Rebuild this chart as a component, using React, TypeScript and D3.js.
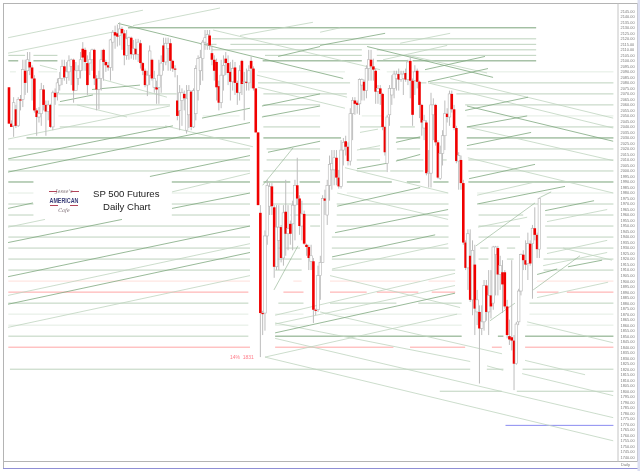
import React from 'react';
import * as d3 from 'd3';

const opens = [2076,2043,2041,2056,2041,2065,2065,2091,2091,2099,
2094,2084,2055,2049,2052,2074,2060,2054,2060,2040,
2071,2071,2078,2084,2095,2085,2090,2095,2101,2073,
2084,2091,2111,2110,2098,2098,2101,2110,2084,2074,
2084,2110,2099,2096,2094,2117,2126,2125,2123,2129,
2125,2105,2114,2121,2106,2111,2106,2116,2098,2091,
2078,2087,2101,2076,2076,2076,2087,2114,2099,2111,
2116,2100,2093,2064,2055,2064,2070,2037,2051,2072,
2040,2052,2073,2091,2102,2117,2116,2123,2107,2101,
2099,2077,2062,2087,2102,2098,2090,2081,2094,2080,
2071,2100,2080,2081,2080,2100,2093,2075,2035,1962,
1871,1871,1941,1968,1986,1967,1913,1937,1949,1921,
1963,1943,1952,1952,1969,1987,1975,1950,1961,1933,
1931,1918,1918,1874,1874,1905,1917,1975,1960,1987,
2001,2001,2012,1994,1986,2019,2027,2022,2009,2052,
2064,2062,2061,2078,2081,2073,2093,2101,2095,2091,
2072,2075,2070,2040,2007,2051,2069,2075,2084,2088,
2083,2084,2089,2083,2100,2082,2082,2091,2081,2060,
2039,2044,1998,1998,2051,2060,2026,1993,2016,2032,
2052,2049,2070,2056,2039,2009,2010,1989,1935,1912,
1923,1883,1915,1872,1872,1857,1863,1896,1872,1887,
1880,1924,1930,1906,1908,1908,1877,1850,1849,1846,
1825,1863,1891,1924,1919,1916,1934,1934,1948,1942,
1929];
const closes = [2043,2040,2062,2041,2065,2064,2092,2080,2101,2094,
2084,2055,2049,2052,2074,2060,2054,2060,2040,2071,
2067,2080,2084,2095,2085,2090,2100,2101,2073,2091,
2091,2101,2103,2099,2078,2101,2110,2084,2074,2084,
2101,2099,2096,2094,2119,2126,2123,2122,2129,2125,
2105,2120,2121,2106,2111,2106,2117,2098,2091,2078,
2087,2109,2084,2084,2074,2087,2098,2099,2116,2116,
2100,2093,2092,2050,2071,2071,2066,2066,2073,2040,
2073,2093,2102,2103,2117,2121,2124,2114,2101,2091,
2076,2062,2087,2096,2098,2089,2081,2093,2080,2071,
2091,2079,2081,2080,2091,2093,2075,2035,1969,1871,
1870,1941,1987,1986,1968,1913,1949,1949,1921,1962,
1943,1948,1943,1969,1987,1975,1950,1961,1934,1931,
1921,1923,1874,1873,1905,1917,1975,1973,1987,2006,
2007,2012,1994,1986,2019,2026,2022,2009,2052,2064,
2061,2060,2083,2083,2073,2093,2101,2095,2092,2072,
2075,2070,2040,2017,2049,2075,2075,2088,2088,2083,
2088,2088,2083,2099,2082,2051,2090,2081,2060,2044,
2046,1998,1999,2060,2060,2026,1994,2016,2032,2052,
2049,2070,2056,2039,2009,2014,1989,1935,1912,1943,
1883,1928,1875,1883,1857,1863,1896,1872,1887,1877,
1931,1931,1906,1914,1897,1877,1851,1847,1846,1825,
1861,1891,1924,1919,1915,1934,1916,1948,1942,1929,
1975];
const highs = [2076,2046,2067,2060,2067,2069,2101,2101,2108,2108,
2096,2087,2057,2058,2080,2078,2064,2064,2061,2073,
2075,2084,2090,2101,2101,2099,2105,2102,2102,2099,
2096,2108,2117,2112,2105,2108,2111,2111,2087,2091,
2110,2111,2101,2099,2120,2128,2132,2133,2135,2131,
2128,2128,2122,2122,2119,2120,2120,2119,2099,2093,
2091,2114,2102,2091,2082,2101,2105,2121,2121,2121,
2120,2101,2096,2087,2078,2075,2073,2078,2078,2073,
2075,2096,2105,2110,2119,2128,2128,2128,2114,2105,
2102,2082,2101,2105,2108,2105,2099,2101,2099,2082,
2096,2101,2090,2093,2096,2104,2095,2075,2035,1969,
1873,1946,1992,1989,1989,1969,1969,1969,1951,1969,
1992,1969,1955,1973,1992,2012,1978,1973,1964,1934,
1933,1933,1921,1875,1914,1923,1978,1983,1992,2014,
2019,2019,2019,2001,2028,2030,2032,2026,2057,2067,
2067,2064,2084,2084,2083,2096,2110,2110,2102,2093,
2078,2078,2071,2041,2051,2078,2087,2091,2091,2093,
2091,2091,2093,2101,2104,2084,2096,2093,2082,2061,
2051,2046,2019,2071,2066,2061,2028,2023,2037,2064,
2057,2073,2073,2060,2041,2017,2014,1992,1937,1947,
1947,1937,1933,1892,1878,1878,1901,1901,1910,1910,
1932,1932,1932,1923,1919,1910,1883,1865,1919,1851,
1863,1893,1925,1928,1937,1944,1937,1951,1967,1944,
1976];
const lows = [2043,2040,2031,2039,2040,2055,2058,2069,2071,2087,
2064,2053,2032,2044,2041,2055,2032,2046,2039,2037,
2060,2064,2073,2078,2082,2079,2082,2078,2062,2078,
2078,2084,2091,2091,2069,2087,2091,2078,2055,2056,
2073,2082,2090,2091,2082,2091,2111,2113,2114,2110,
2096,2101,2101,2102,2101,2101,2099,2093,2087,2076,
2068,2078,2082,2071,2061,2061,2071,2091,2096,2091,
2091,2090,2085,2046,2037,2041,2055,2034,2039,2037,
2039,2046,2064,2078,2082,2110,2110,2110,2096,2082,
2064,2055,2057,2073,2087,2078,2064,2073,2069,2060,
2064,2069,2046,2073,2073,2075,2073,2035,1969,1831,
1851,1855,1933,1960,1960,1903,1910,1910,1917,1914,
1923,1928,1933,1928,1937,1969,1942,1937,1933,1923,
1910,1910,1862,1869,1872,1883,1917,1960,1951,1973,
1983,1987,1987,1984,1984,2005,2014,2005,2005,2028,
2051,2052,2051,2064,2064,2066,2082,2082,2082,2061,
2061,2060,2037,2014,1999,2041,2060,2066,2073,2073,
2081,2069,2081,2078,2066,2041,2069,2075,2048,2032,
2028,1996,1985,1985,2028,2023,1993,1992,2005,2019,
2044,2041,2053,2037,2007,1983,1983,1933,1910,1892,
1881,1869,1851,1860,1807,1851,1855,1864,1851,1866,
1874,1887,1887,1892,1871,1875,1848,1842,1837,1801,
1824,1860,1887,1910,1910,1901,1914,1884,1937,1921,
1921];

const tickValues = d3.range(2145, 1739, -5);

const levelPrices = [2130,2120,2115,2110,2105,2100,2090,2080,2070,2060,2050,2040,2030,2020,2010,2000,1990,1980,1970,1960,1950,1940,1930,1920,1910,1900,1890,1880,1870,1860,1850,1850,1840,1820,1800,1769];
const levelTones = ['d','m','m','m','m','d','l','m','m','m','l','m','d','m','m','m','d','l','m','m','m','m','m','m','m','lp','p','m','l','l','m','d','p','m','m','b'];
const levelSpans = [
[[51.6,228.6]],
[[88,228.6]],
[[83,90],[96,228.6]],
[[88,153],[159.5,228.6]],
[[-.3,7],[10.6,21],[111,153],[159.5,228.6]],
[[-.3,4],[10.6,21],[110,153],[159.5,173],[175,228.6]],
[[.4,3],[12.8,21],[108,145.7],[163.8,262.1]],
[[108,147.9],[178.3,181],[182.6,262.1]],
[[21.4,72.7],[110.3,146.5],[194,262.1]],
[[21.4,69.8],[110.3,134.9],[197.8,262.1]],
[[21.4,69.8],[84,100],[110.3,134.9],[153,162.4],[198.5,262.1]],
[[22,68.5],[110.3,134.9],[152.2,162.4],[169.6,176],[198.5,262.1]],
[[7.6,104.5],[110.3,144],[168,178.3],[198.5,262.1]],
[[-.3,104.5],[111.7,134.9],[152.2,160.9],[168.2,178.3],[198.5,262.1]],
[[-.3,104.5],[111.7,134.9],[150.8,160.9],[168.2,179.7],[187.7,189.8],[199.2,262.1]],
[[-.3,104.5],[110.3,134.9],[150.8,163.8],[165.3,179.7],[199.2,262.1]],
[[-.3,10.6],[70.6,104.5],[110.3,122],[126,134.9],[146.5,166],[172.5,178.3],[184,190.6],[199.2,262.1]],
[[-.3,10.6],[70.6,104.5],[111.7,134.9],[146.5,190.6],[203,262.1]],
[[-.3,10.6],[70.6,104.5],[111.7,134.9],[142.1,190.6],[203.6,262.1]],
[[-.3,10.6],[70.6,104.5],[122,134.9],[142.1,190.6],[203.6,223],[232.5,262.1]],
[[-.3,104.5],[130.6,134.9],[142.1,190.6],[203.6,221.6],[232.5,262.1]],
[[-.3,104.5],[140,190.6],[203.6,221.6],[233.2,262.1]],
[[-.3,104.5],[115.4,126.2],[140,190.6],[204.3,207.9],[215.9,219.5],[233.2,262.1]],
[[-.3,104.5],[115.4,126.9],[140,193.5],[203.6,207.9],[215.9,218.8],[231.8,262.1]],
[[-.3,104.5],[115.4,126.9],[140,193.5],[231.8,262.1]],
[[-.3,104.5],[123.3,126.9],[139.2,178.3],[181.9,193.5],[228.9,262.1]],
[[-.3,103.8],[119,127.7],[139.2,155.1],[159.5,177.5],[183.3,193.5],[228.9,238.3],[241.9,262.1]],
[[-.3,103.8],[116.8,127.7],[139.2,168],[177.5,196.3],[225.7,262.1]],
[[-.3,103.8],[115.4,127.7],[137,196.3],[225.7,262.1]],
[[-.3,103.8],[115.4,130],[134.9,196.3],[224.5,262.1]],
[[-.3,103.8]],
[[115.4,196.3],[212,214.4],[223.8,262.1]],
[[-.3,104.5],[115.4,166.7],[173.9,197.8],[209.4,213.7],[223.8,262.1]],
[[.4,200],[207.2,214.4],[222.7,262.1]],
[[186.8,213.7],[220.2,262.1]],
[[215.3,262.1]],
];

// [startBar, startPrice, endBar, endPrice]
const darkSlopes = [
[-.4,2011,71.1,2041],[-.4,1999,104.5,2044],[61.1,1995,104.5,2014],[70.7,1966,104.5,1980],[-.4,1966,10.4,1971],
[-.4,1935,49,1956],[-.4,1904,104.5,1950],[-.4,1879,104.5,1926],[22.1,2063,36.4,2069],[36,2074,56.8,2078],
[83.7,2048,104.5,2057],[109.7,2049,134.9,2059],[109.7,2059,134.9,2070],[116.7,2104,134.9,2113],[112.3,2017,134.9,2027],
[134.9,2114,163.1,2125],[180.4,2092,206.4,2104],[181.7,2081,207.7,2093],[197.8,2055,225.1,2067],[198.6,2040,224.7,2050],
[198.6,2023,226.4,2035],[199.5,1993,228.1,2006],[203,1970,241.1,1986],[232.5,1964,253.7,1973],[142.3,1968,178.3,1985],
[141.4,1944,190.4,1965],[150.9,2002,163.9,2007],[167.8,2026,178.3,2031],[167.8,2009,178.3,2015],[140.1,1922,184.8,1942],
[115.4,1853,193.4,1889],[229,1906,237.7,1911],[242.4,1913,257.2,1919],
[47.3,2134,144.9,2084],[155.3,2113,209.9,2085],[198.6,2059,262,2027],
];
const midSlopes = [
[-.4,2121,58.1,2146],[53.8,2132,91.5,2148],[-.4,2107,44.7,2126],[-.4,2029,69.8,2059],[70.7,1981,104.5,1998],
[-.4,1949,15.6,1956],[-.4,1887,104.5,1934],[-.4,1858,104.5,1905],[100.2,2123,131.8,2135],[134.9,2126,143.6,2130],
[169.6,2116,191.3,2125],[162.2,2101,190,2114],[203,1978,228.1,1990],[233.3,1954,259.4,1965],[203.4,1949,224.7,1958],
[150.9,2019,160.9,2023],[152.2,2035,160,2038],[140.1,1911,190.4,1934],[111,1831,194.3,1870],[115.4,1861,193.4,1896],
[115.4,1869,193.4,1907],[231.6,1914,259.4,1926],[233.3,1925,259.4,1937],[229,1885,259.8,1899],
[88.5,2128,160.9,2092],[107.5,2087,146.6,2067],[108,2076,145.7,2057],[29.5,2060,51.2,2049],[40.8,2083,68.5,2067],
[67.7,2041,105.8,2022],[173,2105,207.3,2089],[181.7,2080,262,2039],[191.3,2084,262,2048],[198.6,2040,262,2009.4],
[199,2012,262,1980],[145.7,2003,190.4,1980],[142.3,1980,190.4,1956],[111,1831,262,1755],[115.4,1848,262,1776],
[115.4,1862,200,1827],[134.9,1872,213.8,1834],[224.7,1863,262,1844],[223.8,1828,249.8,1815],[222.5,1816,262,1796],
[207.3,1823,214.3,1819],[139.2,1905,195.6,1876],[240.3,1930,261.5,1919],[13.4,2096,20.8,2092],
];
const trendSlopes = [
[230.3,1976,235.1,1981],[110,1987,123.2,2021],[114.9,1892,125.3,1932],[202.5,1932,228.1,1971],[208.6,1864,219.4,1880],[227.3,1892,247.6,1923],
];

const titleLines = ['SP 500 Futures', 'Daily Chart'];
const lowNote = '14%  1831';

const toneColor: Record<string, string> = {
  d: '#7aa37a', m: '#bdd2bd', l: '#e2ece2', p: '#ffa5a5', lp: '#ffdfdb', b: '#8a8cf0',
};

const x = d3.scaleLinear().domain([0, 230]).range([9, 539.4]);
const y = d3.scaleLinear().domain([2145, 1740]).range([11.3, 457.3]);

function Slopes({ rows, stroke, width }: { rows: number[][]; stroke: string; width: number }) {
  return (
    <g stroke={stroke} strokeWidth={width} fill="none">
      {rows.map((r, i) => (
        <line key={i} x1={x(r[0])} y1={y(r[1])} x2={x(r[2])} y2={y(r[3])} />
      ))}
    </g>
  );
}

export default function App() {
  return (
    <svg
      width={640}
      height={471}
      viewBox="0 0 640 471"
      style={{ position: 'fixed', left: 0, top: 0, background: '#fff' }}
    >
      <defs>
        <filter id="soft" x="0" y="0" width="100%" height="100%">
          <feGaussianBlur stdDeviation="0.35" />
        </filter>
      </defs>
      <g filter="url(#soft)">
        {levelPrices.map((p, i) => (
          <g key={i} stroke={toneColor[levelTones[i]]} strokeWidth={1}>
            {levelSpans[i].map((s, j) => (
              <line key={j} x1={x(s[0])} x2={x(s[1])} y1={y(p)} y2={y(p)} />
            ))}
          </g>
        ))}
        <Slopes rows={midSlopes} stroke="#bfd4bf" width={0.8} />
        <Slopes rows={darkSlopes} stroke="#7fa87f" width={0.8} />
        <Slopes rows={trendSlopes} stroke="#8cae8c" width={0.6} />

        {opens.map((o, i) => {
          const c = closes[i];
          const top = y(Math.max(o, c));
          const bottom = y(Math.min(o, c));
          const red = c < o;
          return (
            <g key={i}>
              <line x1={x(i)} x2={x(i)} y1={y(highs[i])} y2={y(lows[i])} stroke="#bdbdbd" strokeWidth={1} />
              <rect
                x={x(i) - 1.3}
                y={top}
                width={2.6}
                height={Math.max(bottom - top, 1)}
                fill={red ? '#f00000' : '#fff'}
                stroke={red ? 'none' : '#b4b4b4'}
                strokeWidth={0.6}
              />
            </g>
          );
        })}

        <rect x={3.5} y={3.5} width={634} height={458} fill="none" stroke="#b4b4b4" />
        <line x1={618} x2={618} y1={3.5} y2={461.5} stroke="#c4c4c4" />
        <line x1={3.5} x2={3.5} y1={461} y2={468} stroke="#b4b4b4" />
        <line x1={3} x2={640} y1={468.5} y2={468.5} stroke="#8f8fd6" />
        <rect x={637.5} y={0} width={2.5} height={471} fill="#dcdff2" />

        {tickValues.map((t) => (
          <text key={t} x={620.5} y={y(t) + 1.4} fontFamily="Liberation Sans" fontSize={3.9} fill="#7a7a7a">
            {t.toFixed(2)}
          </text>
        ))}
        <text x={621} y={466} fontFamily="Liberation Sans" fontSize={4} fill="#777">Daily</text>

        <text x={x(101)} y={y(1831) + 2} fontFamily="Liberation Sans" fontSize={5} fill="#ff7d8a" textAnchor="middle" style={{ whiteSpace: 'pre' }}>
          {lowNote}
        </text>

        <text x={93} y={196.5} fontFamily="Liberation Sans" fontSize={9.6} fill="#222">{titleLines[0]}</text>
        <text x={103} y={210} fontFamily="Liberation Sans" fontSize={9.6} fill="#222">{titleLines[1]}</text>

        <g textAnchor="middle">
          <text x={64} y={193} fontFamily="DejaVu Serif" fontStyle="italic" fontSize={5} fill="#7a6a72">Jesse's</text>
          <path d="M49 191.5H57M71 191.5H79" stroke="#b2455a" strokeWidth={1} />
          <text x={64} y={202.5} fontFamily="Liberation Sans Narrow, Liberation Sans" fontWeight={700} fontSize={7} fill="#3b3f7a" textLength={29} lengthAdjust="spacingAndGlyphs">AMERICAN</text>
          <path d="M50 205.5H58M70 205.5H78" stroke="#b2455a" strokeWidth={1} />
          <text x={64} y={212} fontFamily="DejaVu Serif" fontStyle="italic" fontSize={5} fill="#7a6a72">Cafe</text>
        </g>
      </g>
    </svg>
  );
}
